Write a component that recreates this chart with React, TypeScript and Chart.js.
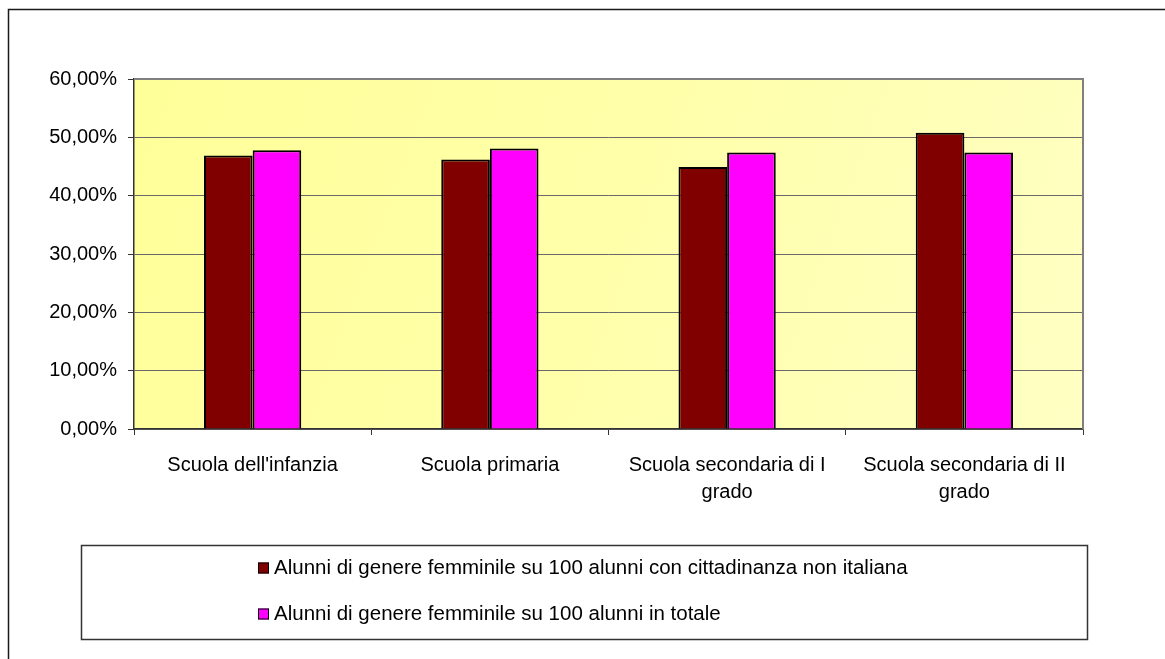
import { useEffect, useRef } from "react";
import { Chart, registerables } from "chart.js";

Chart.register(...registerables);

// School levels (multi-line labels are split into arrays)
const categories: (string | string[])[] = [
  "Scuola dell'infanzia",
  "Scuola primaria",
  ["Scuola secondaria di I", "grado"],
  ["Scuola secondaria di II", "grado"],
];

const seriesNames = [
  "Alunni di genere femminile su 100 alunni con cittadinanza non italiana",
  "Alunni di genere femminile su 100 alunni in totale",
];

// Percentages of female pupils
const foreignFemaleShare = [46.9, 46.2, 44.9, 50.8];
const totalFemaleShare = [47.8, 48.1, 47.4, 47.4];

const seriesColors = ["#800000", "#FF00FF"];

const yMin = 0;
const yMax = 60;
const yStep = 10;

const FONT = "'Liberation Sans', Arial, sans-serif";

const formatPercent = (v: number) => `${v.toFixed(2).replace(".", ",")}%`;

// Page frame, plot background gradient and plot border
const backdropPlugin = {
  id: "backdrop",
  beforeDraw(chart: any) {
    const { ctx, chartArea: a, width, height } = chart;
    ctx.save();
    ctx.fillStyle = "#ffffff";
    ctx.fillRect(0, 0, width, height);
    // outer frame (continues past right/bottom edges)
    ctx.strokeStyle = "#1a1a1a";
    ctx.lineWidth = 1.5;
    ctx.strokeRect(8.5, 9.5, width + 20, height + 20);
    // plot area gradient
    const g = ctx.createLinearGradient(a.left, a.top, a.right, a.bottom);
    g.addColorStop(0, "#FFFF99");
    g.addColorStop(0.5, "#FFFFAA");
    g.addColorStop(1, "#FFFFC4");
    ctx.fillStyle = g;
    ctx.fillRect(a.left, a.top, a.right - a.left, a.bottom - a.top);
    ctx.restore();
  },
  beforeDatasetsDraw(chart: any) {
    const { ctx, chartArea: a } = chart;
    ctx.save();
    ctx.strokeStyle = "#808080";
    ctx.lineWidth = 2;
    ctx.beginPath();
    ctx.moveTo(a.left, a.top);
    ctx.lineTo(a.right, a.top);
    ctx.lineTo(a.right, a.bottom);
    ctx.stroke();
    ctx.restore();
  },
};

// Boxed legend with left-aligned entries stacked vertically
const boxedLegendPlugin = {
  id: "boxedLegend",
  afterDraw(chart: any) {
    const { ctx } = chart;
    const box = { x: 81, y: 545, w: 1006, h: 94 };
    ctx.save();
    ctx.strokeStyle = "#333333";
    ctx.lineWidth = 1.5;
    ctx.strokeRect(box.x + 0.5, box.y + 0.5, box.w, box.h);
    ctx.font = `20.5px ${FONT}`;
    ctx.textBaseline = "middle";
    ctx.textAlign = "left";
    chart.data.datasets.forEach((ds: any, i: number) => {
      const cy = 568 + i * 46;
      const sx = 258;
      ctx.fillStyle = ds.backgroundColor;
      ctx.fillRect(sx, cy - 5.5, 11, 11);
      ctx.strokeStyle = "#000";
      ctx.lineWidth = 1;
      ctx.strokeRect(sx + 0.5, cy - 5.5 + 0.5, 10, 10);
      ctx.fillStyle = "#000";
      ctx.fillText(ds.label, 274, cy);
    });
    ctx.restore();
  },
};

export default function App() {
  const canvasRef = useRef<HTMLCanvasElement | null>(null);

  useEffect(() => {
    if (!canvasRef.current) return;
    const chart = new Chart(canvasRef.current, {
      type: "bar",
      data: {
        labels: categories,
        datasets: [
          {
            label: seriesNames[0],
            data: foreignFemaleShare,
            backgroundColor: seriesColors[0],
            borderColor: "#000",
            borderWidth: 2,
          },
          {
            label: seriesNames[1],
            data: totalFemaleShare,
            backgroundColor: seriesColors[1],
            borderColor: "#000",
            borderWidth: 2,
          },
        ],
      },
      options: {
        responsive: false,
        animation: false,
        layout: { padding: { top: 79, left: 0, right: 82, bottom: 120 } },
        datasets: {
          bar: { categoryPercentage: 0.41, barPercentage: 1 },
        },
        plugins: {
          legend: { display: false },
          tooltip: { enabled: false },
        },
        scales: {
          x: {
            afterFit: (scale: any) => {
              scale.height = 110;
            },
            grid: {
              offset: true,
              drawOnChartArea: false,
              drawTicks: true,
              tickLength: 6,
              color: "#333333",
            },
            border: { color: "#333333", width: 1.5 },
            ticks: {
              color: "#000",
              font: { family: FONT, size: 20, lineHeight: 1.35 },
              padding: 17,
              maxRotation: 0,
              autoSkip: false,
            },
          },
          y: {
            min: yMin,
            max: yMax,
            afterFit: (scale: any) => {
              scale.width = 134;
            },
            grid: {
              color: "#6a6a6a",
              tickLength: 6,
              tickColor: "#333333",
            },
            border: { color: "#333333", width: 1.5 },
            ticks: {
              stepSize: yStep,
              color: "#000",
              padding: 11,
              font: { family: FONT, size: 20 },
              callback: (v: any) => formatPercent(Number(v)),
            },
          },
        },
      },
      plugins: [backdropPlugin, boxedLegendPlugin],
    });
    return () => chart.destroy();
  }, []);

  return (
    <div style={{ position: "fixed", left: 0, top: 0, width: 1165, height: 659, background: "#fff" }}>
      <canvas ref={canvasRef} width={1165} height={659} style={{ display: "block" }} />
    </div>
  );
}
